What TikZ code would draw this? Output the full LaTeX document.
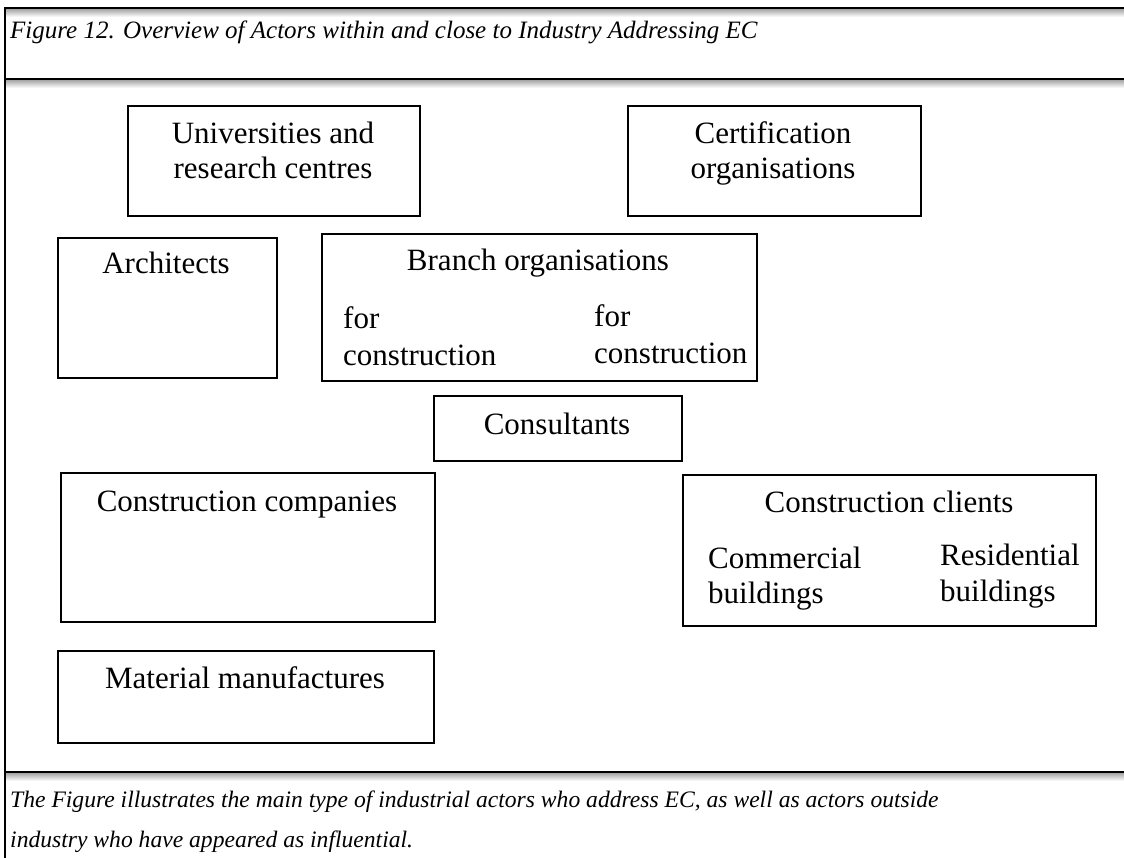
\documentclass[tikz,border=0pt]{standalone}
\usepackage{fontspec}
\setmainfont{Liberation Serif}
\usetikzlibrary{positioning}
\tikzstyle{figure} = [x = 1pt, y = -1pt]
\tikzstyle{frameLine} = [color=black, line width=1.8pt]
\tikzstyle{frameShadow} = [top color=black!35, bottom color=white, draw=none]
\tikzstyle{actorBox} = [draw=black, line width=1.8pt, inner sep=0pt, anchor=north west]
\tikzstyle{actorText} = [font=\fontsize{31}{31}\selectfont, inner sep=0pt, anchor=base]
\tikzstyle{actorTextLeft} = [actorText, anchor=base west]
\tikzstyle{captionText} = [font=\itshape\fontsize{23.6}{23.6}\selectfont, inner sep=0pt, anchor=base west]
\newcommand{\actorFrame}[5]{\node [actorBox, minimum width={(#4-#2)*1pt}, minimum height={(#5-#3)*1pt}] (#1) at (#2,#3) {};}

\begin{document}
\begin{tikzpicture}[figure]
  \useasboundingbox (0,0) rectangle (1124,858);

  % frame
  \shade [frameShadow] (5,9) rectangle (1124,17);
  \shade [frameShadow] (5,80) rectangle (1124,88);
  \shade [frameShadow] (5,773) rectangle (1124,781);
  \coordinate (frameTopLeft) at (5,8);
  \coordinate (frameTopRight) at (1124,8);
  \coordinate (frameBottomLeft) at (5,858);
  \coordinate (headLeft) at (5,79);
  \coordinate (headRight) at (1124,79);
  \coordinate (footLeft) at (5,772);
  \coordinate (footRight) at (1124,772);
  \draw [frameLine] (frameTopRight) -- (frameTopLeft) -- (frameBottomLeft);
  \draw [frameLine] (headLeft) -- (headRight);
  \draw [frameLine] (footLeft) -- (footRight);

  \node [captionText, font=\itshape\fontsize{25}{25}\selectfont] (title) at (10,39) {Figure 12. Overview of Actors within and close to Industry Addressing EC};

  % actors
  \actorFrame{univ}{127}{105}{419}{215}
  \node [actorText] (univA) at (273,144) {Universities and};
  \node [actorText] (univB) at (273,179) {research centres};

  \actorFrame{cert}{627}{105}{920}{215}
  \node [actorText] (certA) at (773,144) {Certification};
  \node [actorText] (certB) at (773,179) {organisations};

  \actorFrame{arch}{57}{237}{276}{377}
  \node [actorText] (archA) at (166,274) {Architects};

  \actorFrame{branch}{321}{233}{756}{380}
  \node [actorText] (branchA) at (538,271) {Branch organisations};
  \node [actorTextLeft] (branchB) at (343,329) {for};
  \node [actorTextLeft] (branchC) at (343,366) {construction};
  \node [actorTextLeft] (branchD) at (594,327) {for};
  \node [actorTextLeft] (branchE) at (594,363) {construction};

  \actorFrame{cons}{433}{395}{681}{460}
  \node [actorText] (consA) at (557,434) {Consultants};

  \actorFrame{comp}{60}{472}{434}{621}
  \node [actorText] (compA) at (247,511) {Construction companies};

  \actorFrame{client}{682}{474}{1095}{625}
  \node [actorText] (clientA) at (889,512) {Construction clients};
  \node [actorTextLeft] (clientB) at (708,568) {Commercial};
  \node [actorTextLeft] (clientC) at (708,603) {buildings};
  \node [actorTextLeft] (clientD) at (940,565) {Residential};
  \node [actorTextLeft] (clientE) at (940,601) {buildings};

  \actorFrame{mat}{57}{650}{433}{742}
  \node [actorText] (matA) at (245,688) {Material manufactures};

  % caption
  \node [captionText] (noteA) at (10,807) {The Figure illustrates the main type of industrial actors who address EC, as well as actors outside};
  \node [captionText] (noteB) at (10,847) {industry who have appeared as influential.};
\end{tikzpicture}
\end{document}
